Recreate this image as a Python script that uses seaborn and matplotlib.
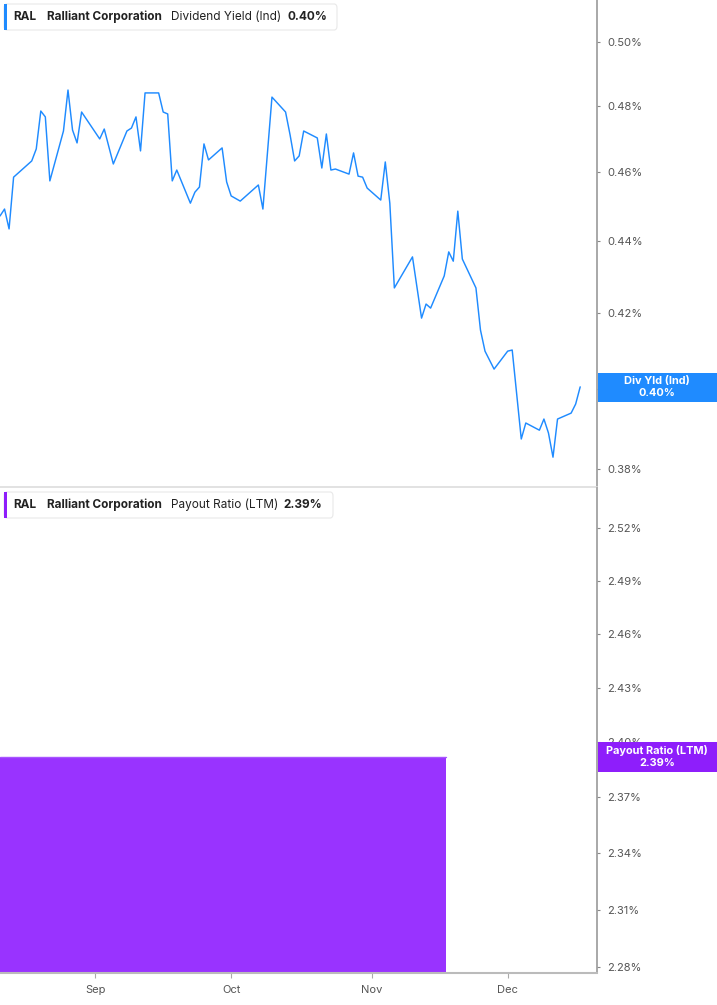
import pandas as pd
import numpy as np
import matplotlib.pyplot as plt
from matplotlib.patches import FancyBboxPatch, Rectangle
from matplotlib.ticker import FixedLocator, NullLocator, FuncFormatter
import seaborn as sns

# dividend yield (Ind), %
yield_dates = [
    "2025-08-11", "2025-08-12", "2025-08-13", "2025-08-14", "2025-08-18", "2025-08-19",
    "2025-08-20", "2025-08-21", "2025-08-22", "2025-08-25", "2025-08-26", "2025-08-27",
    "2025-08-28", "2025-08-29", "2025-09-02", "2025-09-03", "2025-09-05", "2025-09-08",
    "2025-09-09", "2025-09-10", "2025-09-11", "2025-09-12", "2025-09-15", "2025-09-16",
    "2025-09-17", "2025-09-18", "2025-09-19", "2025-09-22", "2025-09-23", "2025-09-24",
    "2025-09-25", "2025-09-26", "2025-09-29", "2025-09-30", "2025-10-01", "2025-10-03",
    "2025-10-07", "2025-10-08", "2025-10-10", "2025-10-13", "2025-10-14", "2025-10-15",
    "2025-10-16", "2025-10-17", "2025-10-20", "2025-10-21", "2025-10-22", "2025-10-23",
    "2025-10-24", "2025-10-27", "2025-10-28", "2025-10-29", "2025-10-30", "2025-10-31",
    "2025-11-03", "2025-11-04", "2025-11-05", "2025-11-06", "2025-11-10", "2025-11-12",
    "2025-11-13", "2025-11-14", "2025-11-17", "2025-11-18", "2025-11-19", "2025-11-20",
    "2025-11-21", "2025-11-24", "2025-11-25", "2025-11-26", "2025-11-28", "2025-12-01",
    "2025-12-02", "2025-12-04", "2025-12-05", "2025-12-08", "2025-12-09", "2025-12-10",
    "2025-12-11", "2025-12-12", "2025-12-15", "2025-12-16", "2025-12-17",
]
yield_values = [
    0.4471, 0.4491, 0.4434, 0.4584, 0.4632, 0.4668,
    0.4783, 0.4765, 0.4573, 0.4722, 0.4848, 0.4725,
    0.4686, 0.4780, 0.4698, 0.4728, 0.4623, 0.4722,
    0.4731, 0.4765, 0.4662, 0.4839, 0.4839, 0.4780,
    0.4774, 0.4573, 0.4605, 0.4508, 0.4540, 0.4555,
    0.4683, 0.4635, 0.4671, 0.4570, 0.4529, 0.4514,
    0.4561, 0.4491, 0.4826, 0.4780, 0.4710, 0.4632,
    0.4647, 0.4722, 0.4701, 0.4611, 0.4713, 0.4605,
    0.4608, 0.4593, 0.4656, 0.4587, 0.4584, 0.4552,
    0.4517, 0.4629, 0.4508, 0.4269, 0.4355, 0.4187,
    0.4225, 0.4214, 0.4302, 0.4369, 0.4343, 0.4485,
    0.4349, 0.4269, 0.4155, 0.4099, 0.4052, 0.4099,
    0.4102, 0.3874, 0.3914, 0.3896, 0.3924, 0.3889,
    0.3829, 0.3924, 0.3939, 0.3962, 0.4006,
]

# payout ratio (LTM), %
payout_dates = ["2025-08-11 00:00", "2025-11-17 12:00"]
payout_values = [2.392, 2.392]

yield_ticks = [0.38, 0.40, 0.42, 0.44, 0.46, 0.48, 0.50]
payout_ticks = [2.28, 2.31, 2.34, 2.37, 2.40, 2.43, 2.46, 2.49, 2.52]
month_ticks = ["2025-09-01", "2025-10-01", "2025-11-01", "2025-12-01"]
month_labels = ["Sep", "Oct", "Nov", "Dec"]

BLUE = "#1f8bff"
PURPLE_AREA = "#9933ff"
PURPLE_TAG = "#8e1efb"
W, H = 717, 1005

sns.set_theme(style="white")
plt.rcParams['font.family'] = ['Inter', 'DejaVu Sans']


def fx(px):
    return px / W


def fy(py):
    return 1 - py / H


fig = plt.figure(figsize=(W / 100, H / 100), dpi=100)
ax1 = fig.add_axes([0, fy(487), fx(597), 487 / H])
ax2 = fig.add_axes([0, fy(973), fx(597), (973 - 488) / H])

xmin = pd.Timestamp("2025-08-11")
xmax = pd.Timestamp("2025-12-20 17:00")

df_yld = pd.DataFrame({"date": pd.to_datetime(yield_dates), "value": yield_values})
sns.lineplot(data=df_yld, x="date", y="value", ax=ax1, color=BLUE, linewidth=1.05)

df_pay = pd.DataFrame({"date": pd.to_datetime(payout_dates), "value": payout_values})
ax2.set_yscale("log")
ax2.fill_between(df_pay["date"], df_pay["value"], 2.0, color=PURPLE_AREA, linewidth=0)
sns.lineplot(data=df_pay, x="date", y="value", ax=ax2, color="#a855ff", linewidth=1.0)

ax1.set_yscale("log")
ax1.set_ylim(0.37563, 0.51368)
ax2.set_ylim(2.2769, 2.5431)

pct = FuncFormatter(lambda v, p: f"{v:.2f}%")
for ax, ticks in ((ax1, yield_ticks), (ax2, payout_ticks)):
    ax.set_xlim(xmin, xmax)
    ax.yaxis.tick_right()
    ax.yaxis.set_major_locator(FixedLocator(ticks))
    ax.yaxis.set_minor_locator(NullLocator())
    ax.yaxis.set_major_formatter(pct)
    ax.yaxis.set_minor_formatter(FuncFormatter(lambda v, p: ""))
    ax.tick_params(axis="y", which="major", right=True, left=False, direction="out",
                   length=2.5, width=0.8, color="#888888", labelsize=8,
                   labelcolor="#555555", pad=5)
    ax.set_xlabel("")
    ax.set_ylabel("")
    ax.set_facecolor("white")
    ax.spines["left"].set_visible(False)
    ax.spines["top"].set_visible(False)
    ax.spines["right"].set_color("#999999")
    ax.spines["right"].set_linewidth(1.2)

ax1.set_xticks([])
ax1.spines["bottom"].set_color("#dddddd")
ax1.spines["bottom"].set_linewidth(1.2)

ax2.set_xticks(pd.to_datetime(month_ticks))
ax2.set_xticklabels(month_labels)
ax2.tick_params(axis="x", bottom=True, direction="out", length=3.5, width=0.8,
                color="#aaaaaa", labelsize=8, labelcolor="#555555", pad=5)
ax2.spines["bottom"].set_color("#bbbbbb")
ax2.spines["bottom"].set_linewidth(1.5)


def header(y0, y1, x1, color, parts):
    fig.add_artist(FancyBboxPatch((fx(4), fy(y1)), fx(x1) - fx(4), (y1 - y0) / H,
                                  boxstyle="round,pad=0,rounding_size=0.004",
                                  transform=fig.transFigure, fc="white",
                                  ec="#e8e8e8", lw=0.8, zorder=5))
    fig.add_artist(Rectangle((fx(4), fy(y1)), fx(7) - fx(4), (y1 - y0) / H,
                             transform=fig.transFigure, color=color, lw=0, zorder=6))
    yc = fy((y0 + y1) / 2)
    for x, s, w in parts:
        fig.text(fx(x), yc, s, ha="left", va="center", fontsize=8.5,
                 fontweight=w, color="#222222", zorder=7)


header(4, 30, 337, BLUE, [(13, "RAL", "bold"), (47, "Ralliant Corporation", "bold"),
                          (171, "Dividend Yield (Ind)", "normal"), (287, "0.40%", "bold")])
header(492, 518, 333, PURPLE_TAG, [(13, "RAL", "bold"), (47, "Ralliant Corporation", "bold"),
                                   (171, "Payout Ratio (LTM)", "normal"), (283, "2.39%", "bold")])


def tag(y0, y1, color, line1, line2):
    fig.add_artist(Rectangle((fx(598), fy(y1)), fx(717) - fx(598), (y1 - y0) / H,
                             transform=fig.transFigure, color=color, lw=0, zorder=5))
    fig.text(fx(657), fy(y0 + 8), line1, ha="center", va="center", fontsize=7.9,
             fontweight="bold", color="white", zorder=6)
    fig.text(fx(657), fy(y1 - 9), line2, ha="center", va="center", fontsize=7.9,
             fontweight="bold", color="white", zorder=6)


tag(373, 402, BLUE, "Div Yld (Ind)", "0.40%")
tag(742, 772, PURPLE_TAG, "Payout Ratio (LTM)", "2.39%")

fig.savefig("out.png", dpi=100, facecolor="white")
